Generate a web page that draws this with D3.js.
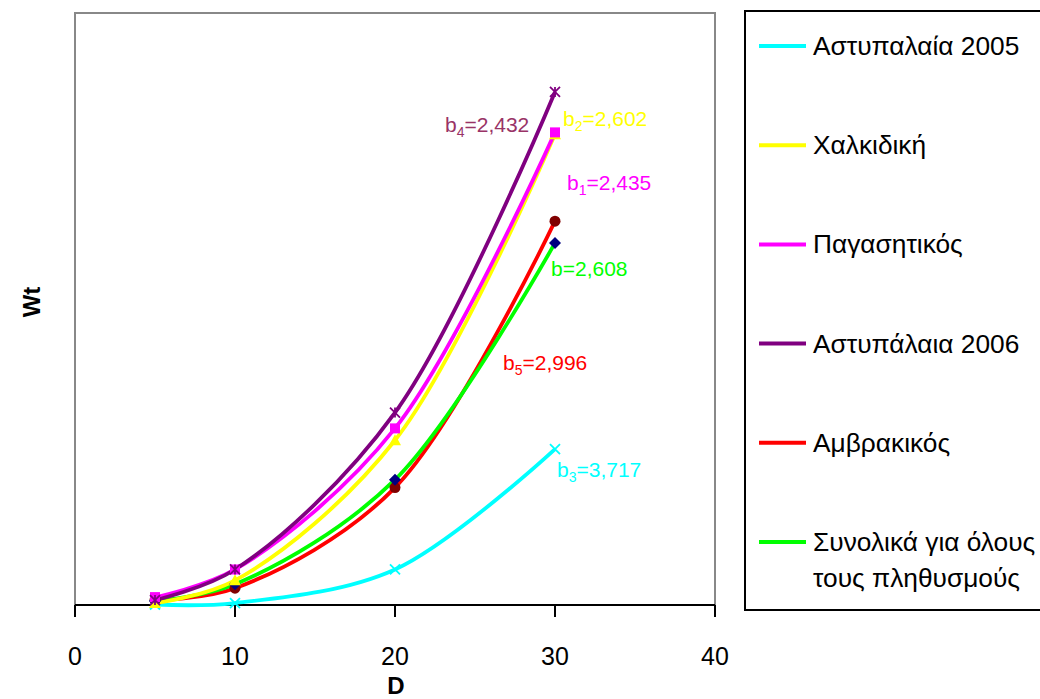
<!DOCTYPE html>
<html>
<head>
<meta charset="utf-8">
<script src="https://cdn.jsdelivr.net/npm/d3@7"></script>
<style>
  body { margin: 0; background: #fff; }
  svg { font-family: "Liberation Sans", Arial, sans-serif; }
</style>
</head>
<body>
<div id="chart"></div>
<script>
// data
const D = [5, 10, 20, 30]
const seriesNames = ["Αστυπαλαία 2005", "Χαλκιδική", "Παγασητικός", "Αστυπάλαια 2006", "Αμβρακικός", "Συνολικά για όλους|τους πληθυσμούς"]
const astyp2005 = [0.5, 2, 36, 158]
const chalkidiki = [2, 25, 167, 477]
const pagasitikos = [8, 36, 179, 479]
const astyp2006 = [5, 36, 195, 520]
const amvrakikos = [5, 17, 119, 389]
const synolika = [4, 21, 127, 367]
const bLabels = [["b", "3", "=3,717"], ["b", "2", "=2,602"], ["b", "1", "=2,435"], ["b", "4", "=2,432"], ["b", "5", "=2,996"], ["b", "", "=2,608"]]
const xTicks = [0, 10, 20, 30, 40]

const W = 1040, H = 699
const mLeft = 75, mRight = 715, mTop = 13, mBottom = 605

const svg = d3.select("#chart").append("svg")
  .attr("width", W).attr("height", H)

const x = d3.scaleLinear().domain([0, 40]).range([mLeft, mRight])
const y = d3.scaleLinear().domain([0, 600]).range([mBottom, mTop])

const colors = ["#00ffff", "#ffff00", "#ff00ff", "#800080", "#ff0000", "#00ff00"]
const markerColors = ["#00ffff", "#ffff00", "#ff00ff", "#800080", "#800000", "#000080"]
const markerTypes = ["x", "tri", "sq", "star", "circle", "diamond"]
const labelColors = ["#00ffff", "#ffff00", "#ff00ff", "#993366", "#ff0000", "#00ff00"]
// label offsets from each series' last point (pixels)
const labelOffsets = [[2, 28], [8, -8], [12, 58], [-110, 40], [-52, 149], [-4, 33]]

const allSeries = [astyp2005, chalkidiki, pagasitikos, astyp2006, amvrakikos, synolika]

// plot area border (gray) on top, left, right
svg.append("path")
  .attr("d", `M${mLeft},${mBottom}V${mTop}H${mRight}V${mBottom}`)
  .attr("fill", "none").attr("stroke", "#888").attr("stroke-width", 2)

// x axis
const xAxis = svg.append("g")
xAxis.append("line")
  .attr("x1", mLeft).attr("x2", mRight).attr("y1", mBottom).attr("y2", mBottom)
  .attr("stroke", "#000").attr("stroke-width", 2)
xAxis.selectAll(".tick").data(xTicks).enter().append("line")
  .attr("x1", d => x(d)).attr("x2", d => x(d))
  .attr("y1", mBottom).attr("y2", mBottom + 12)
  .attr("stroke", "#000").attr("stroke-width", 2)
xAxis.selectAll(".tl").data(xTicks).enter().append("text")
  .text(d => d)
  .attr("x", d => x(d)).attr("y", 665)
  .attr("text-anchor", "middle").attr("font-size", 25)

svg.append("text").text("D")
  .attr("x", 396).attr("y", 694)
  .attr("text-anchor", "middle").attr("font-size", 24).attr("font-weight", "bold")

svg.append("text").text("Wt")
  .attr("transform", "translate(40,302) rotate(-90)")
  .attr("text-anchor", "middle").attr("font-size", 24).attr("font-weight", "bold")

// lines
const line = d3.line()
  .x((d, i) => x(D[i]))
  .y(d => y(d))
  .curve(d3.curveCatmullRom.alpha(0.5))

const drawOrder = [0, 4, 5, 1, 2, 3]
drawOrder.forEach(si => {
  svg.append("path")
    .datum(allSeries[si])
    .attr("d", line)
    .attr("fill", "none")
    .attr("stroke", colors[si])
    .attr("stroke-width", 3.8)
})

// markers
function marker(g, type, color, cx, cy) {
  const s = 5
  if (type === "x") {
    g.append("path").attr("d", `M${cx-s},${cy-s}L${cx+s},${cy+s}M${cx-s},${cy+s}L${cx+s},${cy-s}`)
      .attr("stroke", color).attr("stroke-width", 1.8)
  } else if (type === "star") {
    g.append("path").attr("d", `M${cx-s},${cy-s}L${cx+s},${cy+s}M${cx-s},${cy+s}L${cx+s},${cy-s}M${cx},${cy-s}V${cy+s}`)
      .attr("stroke", color).attr("stroke-width", 1.8)
  } else if (type === "tri") {
    g.append("path").attr("d", `M${cx},${cy-6}L${cx+6},${cy+5}L${cx-6},${cy+5}Z`).attr("fill", color)
  } else if (type === "sq") {
    g.append("rect").attr("x", cx - 5).attr("y", cy - 5).attr("width", 10).attr("height", 10).attr("fill", color)
  } else if (type === "circle") {
    g.append("circle").attr("cx", cx).attr("cy", cy).attr("r", 5.5).attr("fill", color)
  } else if (type === "diamond") {
    g.append("path").attr("d", `M${cx},${cy-6}L${cx+6},${cy}L${cx},${cy+6}L${cx-6},${cy}Z`).attr("fill", color)
  }
}

const markerG = svg.append("g")
drawOrder.forEach(si => {
  allSeries[si].forEach((v, i) => marker(markerG, markerTypes[si], markerColors[si], x(D[i]), y(v)))
})

// b labels
allSeries.forEach((vals, si) => {
  const last = vals[vals.length - 1]
  const t = svg.append("text")
    .attr("x", x(D[D.length - 1]) + labelOffsets[si][0])
    .attr("y", y(last) + labelOffsets[si][1])
    .attr("font-size", 21)
    .attr("fill", labelColors[si])
  t.append("tspan").text(bLabels[si][0])
  if (bLabels[si][1]) {
    t.append("tspan").text(bLabels[si][1]).attr("font-size", 14).attr("dy", 5)
    t.append("tspan").text(bLabels[si][2]).attr("dy", -5)
  } else {
    t.append("tspan").text(bLabels[si][2])
  }
})

// legend
const legend = svg.append("g")
legend.append("rect")
  .attr("x", 745).attr("y", 11).attr("width", 310).attr("height", 599)
  .attr("fill", "none").attr("stroke", "#000").attr("stroke-width", 2)

const legendY = d3.scalePoint().domain(d3.range(seriesNames.length)).range([46, 542])
seriesNames.forEach((name, i) => {
  const ly = legendY(i)
  legend.append("line")
    .attr("x1", 759).attr("x2", 806).attr("y1", ly).attr("y2", ly)
    .attr("stroke", colors[i]).attr("stroke-width", 4)
  name.split("|").forEach((part, j) => {
    legend.append("text").text(part)
      .attr("x", 813).attr("y", ly + 9 + j * 36)
      .attr("font-size", 26.3)
  })
})
</script>
</body>
</html>
